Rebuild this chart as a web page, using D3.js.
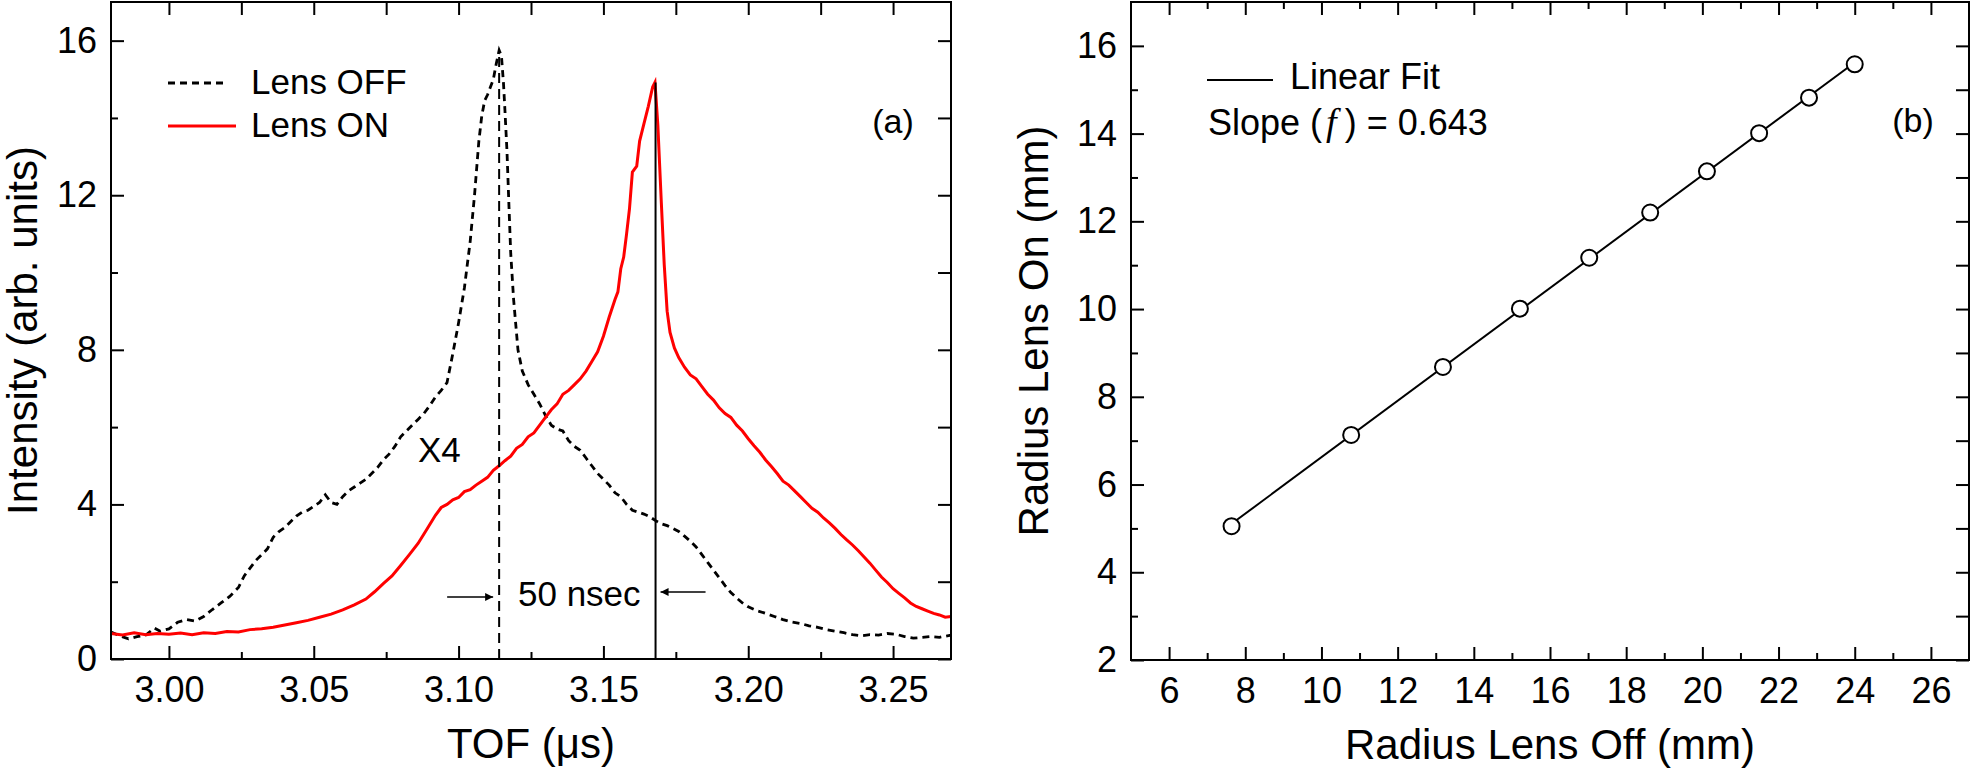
<!DOCTYPE html>
<html>
<head>
<meta charset="utf-8">
<script src="https://cdnjs.cloudflare.com/ajax/libs/d3/7.8.5/d3.min.js"></script>
<style>
body { margin: 0; background: #fff; }
svg text { font-family: "Liberation Sans", Arial, sans-serif; fill: #000; }
.tick text { font-size: 36px; }
</style>
</head>
<body>
<div id="chart"></div>
<script>
// Panel (a): TOF spectra, [TOF (us), intensity]
const lensOff = [
    [2.980, 0.70], [2.983, 0.60], [2.986, 0.52], [2.989, 0.58], [2.992, 0.62], [2.995, 0.80],
    [2.997, 0.72], [3.000, 0.78], [3.003, 0.95], [3.006, 1.02], [3.009, 0.98], [3.012, 1.10],
    [3.015, 1.28], [3.018, 1.45], [3.021, 1.62], [3.024, 1.85], [3.026, 2.15], [3.028, 2.35],
    [3.030, 2.55], [3.032, 2.70], [3.034, 2.85], [3.036, 3.15], [3.038, 3.30], [3.040, 3.40],
    [3.042, 3.55], [3.044, 3.70], [3.046, 3.80], [3.048, 3.85], [3.050, 3.95], [3.052, 4.05],
    [3.054, 4.25], [3.056, 4.05], [3.058, 4.00], [3.060, 4.20], [3.062, 4.35], [3.064, 4.45],
    [3.066, 4.55], [3.068, 4.65], [3.070, 4.80], [3.072, 4.95], [3.074, 5.15], [3.076, 5.30],
    [3.078, 5.50], [3.080, 5.75], [3.082, 5.90], [3.084, 6.05], [3.086, 6.20], [3.088, 6.35],
    [3.090, 6.55], [3.092, 6.78], [3.094, 6.95], [3.096, 7.15], [3.098, 7.90], [3.100, 8.70],
    [3.102, 9.60], [3.104, 10.80], [3.1055, 12.00], [3.107, 13.40], [3.108, 14.05], [3.109, 14.45],
    [3.110, 14.60], [3.111, 14.80], [3.112, 15.00], [3.113, 15.40], [3.114, 15.75], [3.1148, 15.60],
    [3.1155, 14.90], [3.116, 14.20], [3.1167, 13.15], [3.1174, 11.70], [3.118, 10.50], [3.119, 9.30],
    [3.1205, 8.00], [3.122, 7.45], [3.124, 7.10], [3.126, 6.85], [3.128, 6.60], [3.130, 6.30],
    [3.132, 6.05], [3.134, 5.95], [3.136, 5.90], [3.138, 5.65], [3.140, 5.50], [3.142, 5.40],
    [3.144, 5.20], [3.146, 5.00], [3.148, 4.80], [3.150, 4.65], [3.152, 4.50], [3.154, 4.30],
    [3.156, 4.20], [3.158, 4.00], [3.160, 3.85], [3.162, 3.80], [3.164, 3.75], [3.166, 3.68],
    [3.168, 3.58], [3.170, 3.50], [3.172, 3.45], [3.174, 3.38], [3.176, 3.30], [3.178, 3.18],
    [3.180, 3.05], [3.182, 2.90], [3.184, 2.70], [3.186, 2.50], [3.188, 2.30], [3.190, 2.10],
    [3.192, 1.90], [3.194, 1.72], [3.196, 1.58], [3.198, 1.45], [3.200, 1.35], [3.203, 1.25],
    [3.206, 1.18], [3.209, 1.10], [3.212, 1.02], [3.215, 0.96], [3.218, 0.92], [3.221, 0.86],
    [3.224, 0.82], [3.227, 0.76], [3.230, 0.72], [3.233, 0.68], [3.236, 0.63], [3.239, 0.60],
    [3.242, 0.63], [3.245, 0.62], [3.248, 0.66], [3.251, 0.64], [3.254, 0.58], [3.257, 0.54],
    [3.260, 0.56], [3.263, 0.58], [3.266, 0.56], [3.270, 0.62]
];

const lensOn = [
    [2.980, 0.66], [2.984, 0.62], [2.988, 0.68], [2.992, 0.63], [2.996, 0.66], [3.000, 0.64],
    [3.004, 0.67], [3.008, 0.63], [3.012, 0.68], [3.016, 0.66], [3.020, 0.71], [3.024, 0.70],
    [3.028, 0.76], [3.032, 0.78], [3.036, 0.82], [3.040, 0.88], [3.044, 0.94], [3.048, 1.00],
    [3.052, 1.08], [3.056, 1.16], [3.060, 1.27], [3.064, 1.40], [3.068, 1.55], [3.071, 1.74],
    [3.074, 1.95], [3.077, 2.15], [3.080, 2.42], [3.083, 2.70], [3.086, 2.99], [3.089, 3.35],
    [3.092, 3.72], [3.094, 3.92], [3.096, 4.00], [3.098, 4.12], [3.100, 4.18], [3.102, 4.33],
    [3.104, 4.38], [3.106, 4.50], [3.108, 4.60], [3.110, 4.70], [3.112, 4.88], [3.114, 5.00],
    [3.116, 5.13], [3.118, 5.25], [3.120, 5.45], [3.122, 5.55], [3.124, 5.75], [3.126, 5.85],
    [3.128, 6.05], [3.130, 6.25], [3.132, 6.45], [3.134, 6.60], [3.136, 6.85], [3.138, 6.95],
    [3.140, 7.10], [3.142, 7.25], [3.144, 7.45], [3.146, 7.70], [3.148, 7.95], [3.150, 8.35],
    [3.152, 8.85], [3.154, 9.30], [3.155, 9.50], [3.156, 10.10], [3.157, 10.40], [3.158, 11.00],
    [3.159, 11.65], [3.160, 12.60], [3.1615, 12.75], [3.1625, 13.40], [3.164, 13.85], [3.1655, 14.30],
    [3.167, 14.80], [3.1678, 14.92], [3.1688, 13.80], [3.170, 11.80], [3.171, 10.20], [3.172, 9.00],
    [3.173, 8.45], [3.1745, 8.05], [3.176, 7.80], [3.178, 7.55], [3.180, 7.35], [3.182, 7.25],
    [3.184, 7.05], [3.186, 6.85], [3.188, 6.70], [3.190, 6.50], [3.192, 6.35], [3.194, 6.25],
    [3.196, 6.05], [3.198, 5.90], [3.200, 5.70], [3.202, 5.52], [3.204, 5.35], [3.206, 5.15],
    [3.208, 4.98], [3.210, 4.80], [3.212, 4.60], [3.214, 4.50], [3.216, 4.35], [3.218, 4.20],
    [3.220, 4.05], [3.222, 3.90], [3.224, 3.80], [3.226, 3.65], [3.228, 3.52], [3.230, 3.38],
    [3.232, 3.22], [3.234, 3.08], [3.236, 2.95], [3.238, 2.80], [3.240, 2.64], [3.242, 2.48],
    [3.244, 2.30], [3.246, 2.12], [3.248, 1.98], [3.250, 1.82], [3.252, 1.70], [3.254, 1.58],
    [3.256, 1.45], [3.258, 1.36], [3.260, 1.30], [3.262, 1.24], [3.264, 1.18], [3.266, 1.14],
    [3.268, 1.08], [3.270, 1.10]
];

// peak markers: [TOF, height]
const peakOff = [3.114, 15.65];
const peakOn = [3.168, 14.92];

const tofTicks = [3.00, 3.05, 3.10, 3.15, 3.20, 3.25];
const tofMinor = [3.025, 3.075, 3.125, 3.175, 3.225];
const intTicks = [0, 4, 8, 12, 16];
const intMinor = [2, 6, 10, 14];

// Panel (b): radius lens off vs lens on (mm)
const radiusOff = [7.64, 10.78, 13.19, 15.21, 17.03, 18.63, 20.12, 21.49, 22.80, 24.00];
const radiusOn = [5.05, 7.13, 8.68, 10.01, 11.17, 12.20, 13.14, 14.01, 14.82, 15.58];

const offTicks = [6, 8, 10, 12, 14, 16, 18, 20, 22, 24, 26];
const offMinor = [7, 9, 11, 13, 15, 17, 19, 21, 23, 25];
const onTicks = [2, 4, 6, 8, 10, 12, 14, 16];
const onMinor = [3, 5, 7, 9, 11, 13, 15];

const width = 1973, height = 769;

const svg = d3.select("#chart")
    .append("svg")
    .attr("width", width)
    .attr("height", height);

const defs = svg.append("defs");
defs.append("marker")
    .attr("id", "arrow")
    .attr("viewBox", "0 0 10 10")
    .attr("refX", 10).attr("refY", 5)
    .attr("markerWidth", 15).attr("markerHeight", 8)
    .attr("markerUnits", "userSpaceOnUse")
    .attr("orient", "auto")
    .append("path")
    .attr("d", "M0,0 L10,5 L0,10 z")
    .attr("fill", "#000");

// axes on all four sides, ticks pointing inward
function drawFrame(x, y, c) {
    const [x0, x1] = x.range();
    const [y0, y1] = y.range();
    const styleAxis = g => {
        g.select(".domain").remove();
        g.selectAll(".tick line").attr("stroke", "#000").attr("stroke-width", 2);
        g.attr("font-family", null).attr("font-size", null);
    };

    svg.append("g").attr("transform", `translate(0,${y0})`)
        .call(d3.axisBottom(x).tickValues(c.xMajor).tickSize(-13).tickPadding(17).tickFormat(c.xFmt))
        .call(styleAxis);
    svg.append("g").attr("transform", `translate(0,${y0})`)
        .call(d3.axisBottom(x).tickValues(c.xMinor).tickSize(-7).tickFormat(""))
        .call(styleAxis);
    svg.append("g").attr("transform", `translate(${x0},0)`)
        .call(d3.axisLeft(y).tickValues(c.yMajor).tickSize(-13).tickPadding(14).tickFormat(d3.format("d")))
        .call(styleAxis);
    svg.append("g").attr("transform", `translate(${x0},0)`)
        .call(d3.axisLeft(y).tickValues(c.yMinor).tickSize(-7).tickFormat(""))
        .call(styleAxis);

    svg.append("g").attr("transform", `translate(0,${y1})`)
        .call(d3.axisTop(x).tickValues(c.xMajor).tickSize(-13).tickFormat(""))
        .call(styleAxis);
    svg.append("g").attr("transform", `translate(0,${y1})`)
        .call(d3.axisTop(x).tickValues(c.xMinor).tickSize(c.topMinor).tickFormat(""))
        .call(styleAxis);
    svg.append("g").attr("transform", `translate(${x1},0)`)
        .call(d3.axisRight(y).tickValues(c.yMajor.concat(c.yMinor)).tickSize(-13).tickFormat(""))
        .call(styleAxis);

    svg.append("rect")
        .attr("x", x0).attr("y", y1)
        .attr("width", x1 - x0).attr("height", y0 - y1)
        .attr("fill", "none").attr("stroke", "#000").attr("stroke-width", 2);
}

// ---------- Panel (a) ----------
const xA = d3.scaleLinear().domain([2.98, 3.27]).range([111, 951]);
const yA = d3.scaleLinear().domain([0, 17]).range([659, 2]);

const lineA = d3.line().x(d => xA(d[0])).y(d => yA(d[1]));

svg.append("path")
    .datum(lensOff)
    .attr("d", lineA)
    .attr("fill", "none")
    .attr("stroke", "#000")
    .attr("stroke-width", 2.8)
    .attr("stroke-dasharray", "7,5");

svg.append("path")
    .datum(lensOn)
    .attr("d", lineA)
    .attr("fill", "none")
    .attr("stroke", "#ff0000")
    .attr("stroke-width", 3);

// vertical peak lines
svg.append("line")
    .attr("x1", xA(peakOff[0])).attr("x2", xA(peakOff[0]))
    .attr("y1", yA(0)).attr("y2", yA(peakOff[1]))
    .attr("stroke", "#000").attr("stroke-width", 2)
    .attr("stroke-dasharray", "10,6");
svg.append("line")
    .attr("x1", xA(peakOn[0])).attr("x2", xA(peakOn[0]))
    .attr("y1", yA(0)).attr("y2", yA(peakOn[1]))
    .attr("stroke", "#000").attr("stroke-width", 2);

drawFrame(xA, yA, {
    xMajor: tofTicks, xMinor: tofMinor, xFmt: d3.format(".2f"),
    yMajor: intTicks, yMinor: intMinor, topMinor: -13
});

// 50 nsec annotation
svg.append("line")
    .attr("x1", xA(peakOff[0]) - 52).attr("x2", xA(peakOff[0]) - 6)
    .attr("y1", 597).attr("y2", 597)
    .attr("stroke", "#000").attr("stroke-width", 1.5)
    .attr("marker-end", "url(#arrow)");
svg.append("line")
    .attr("x1", xA(peakOn[0]) + 50).attr("x2", xA(peakOn[0]) + 5)
    .attr("y1", 592).attr("y2", 592)
    .attr("stroke", "#000").attr("stroke-width", 1.5)
    .attr("marker-end", "url(#arrow)");
svg.append("text")
    .attr("x", 518).attr("y", 606)
    .style("font-size", "35px")
    .text("50 nsec");

svg.append("text")
    .attr("x", 418).attr("y", 462)
    .style("font-size", "35px")
    .text("X4");

svg.append("text")
    .attr("x", 893).attr("y", 133)
    .attr("text-anchor", "middle")
    .style("font-size", "34px")
    .text("(a)");

// legend (a)
const legA = [
    { label: "Lens OFF", color: "#000", dash: "7,5", width: 2.8, y: 83, len: 60 },
    { label: "Lens ON", color: "#ff0000", dash: null, width: 3, y: 126, len: 68 }
];
legA.forEach(d => {
    svg.append("line")
        .attr("x1", 168).attr("x2", 168 + d.len)
        .attr("y1", d.y).attr("y2", d.y)
        .attr("stroke", d.color).attr("stroke-width", d.width)
        .attr("stroke-dasharray", d.dash);
    svg.append("text")
        .attr("x", 251).attr("y", d.y + 11)
        .style("font-size", "35px")
        .text(d.label);
});

svg.append("text")
    .attr("transform", `translate(37,${(yA.range()[0] + yA.range()[1]) / 2}) rotate(-90)`)
    .attr("text-anchor", "middle")
    .style("font-size", "42px")
    .text("Intensity (arb. units)");

svg.append("text")
    .attr("x", (xA.range()[0] + xA.range()[1]) / 2).attr("y", 758)
    .attr("text-anchor", "middle")
    .style("font-size", "42px")
    .text("TOF (μs)");

// ---------- Panel (b) ----------
const xB = d3.scaleLinear().domain([5, 27]).range([1131, 1969]);
const yB = d3.scaleLinear().domain([2, 17]).range([660, 2]);

const pts = radiusOff.map((r, i) => [r, radiusOn[i]]);

// least-squares linear fit
const mx = d3.mean(radiusOff), my = d3.mean(radiusOn);
const slope = d3.sum(pts, d => (d[0] - mx) * (d[1] - my)) / d3.sum(pts, d => (d[0] - mx) ** 2);
const intercept = my - slope * mx;
const fitX = d3.extent(radiusOff);

svg.append("line")
    .attr("x1", xB(fitX[0])).attr("y1", yB(slope * fitX[0] + intercept))
    .attr("x2", xB(fitX[1])).attr("y2", yB(slope * fitX[1] + intercept))
    .attr("stroke", "#000").attr("stroke-width", 2);

svg.selectAll("circle.pt")
    .data(pts)
    .join("circle")
    .attr("class", "pt")
    .attr("cx", d => xB(d[0]))
    .attr("cy", d => yB(d[1]))
    .attr("r", 8)
    .attr("fill", "#fff")
    .attr("stroke", "#000")
    .attr("stroke-width", 2);

drawFrame(xB, yB, {
    xMajor: offTicks, xMinor: offMinor, xFmt: d3.format("d"),
    yMajor: onTicks, yMinor: onMinor, topMinor: -7
});

// legend (b)
svg.append("line")
    .attr("x1", 1207).attr("x2", 1273)
    .attr("y1", 80).attr("y2", 80)
    .attr("stroke", "#000").attr("stroke-width", 2);
svg.append("text")
    .attr("x", 1290).attr("y", 89)
    .style("font-size", "36px")
    .text("Linear Fit");

const slopeText = svg.append("text")
    .attr("x", 1208).attr("y", 135)
    .style("font-size", "36px");
slopeText.append("tspan").text("Slope (");
slopeText.append("tspan")
    .attr("dx", 4)
    .style("font-family", "'Liberation Serif', 'Times New Roman', serif")
    .style("font-style", "italic")
    .style("font-size", "38px")
    .text("f");
slopeText.append("tspan").attr("dx", 8).text(") = 0.643");

svg.append("text")
    .attr("x", 1913).attr("y", 132)
    .attr("text-anchor", "middle")
    .style("font-size", "34px")
    .text("(b)");

svg.append("text")
    .attr("transform", `translate(1048,${(yB.range()[0] + yB.range()[1]) / 2}) rotate(-90)`)
    .attr("text-anchor", "middle")
    .style("font-size", "42px")
    .text("Radius Lens On (mm)");

svg.append("text")
    .attr("x", (xB.range()[0] + xB.range()[1]) / 2).attr("y", 759)
    .attr("text-anchor", "middle")
    .style("font-size", "42px")
    .text("Radius Lens Off (mm)");
</script>
</body>
</html>
